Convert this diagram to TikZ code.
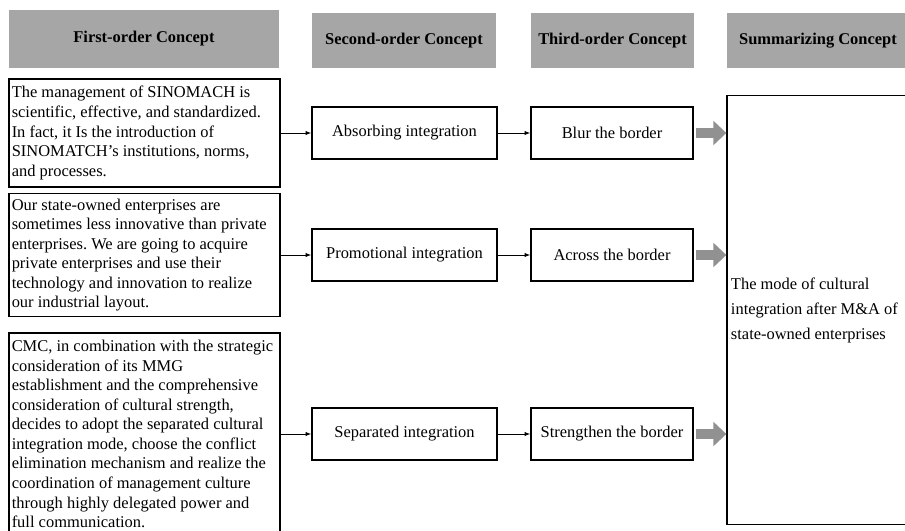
\documentclass[tikz,border=0pt]{standalone}
\usepackage{fontspec}
\setmainfont{Liberation Serif}
\usetikzlibrary{arrows.meta,positioning}
\definecolor{headgray}{RGB}{166,166,166}
\definecolor{arrowgray}{RGB}{145,145,145}
% quote text: no hyphenation, single space after full stops
\newcommand{\quotefont}{\fontsize{11.7}{13.9}\selectfont\frenchspacing\hyphenpenalty=10000\relax}

\begin{document}
\begin{tikzpicture}[x=0.025cm, y=-0.025cm,
  head/.style={fill=headgray, minimum height=1.375cm, inner sep=0pt,
    font=\fontsize{11.7}{14}\selectfont\bfseries},
  quote/.style={draw, line width=0.9pt, align=flush left, inner ysep=0pt,
    inner xsep=0.07cm, text width=6.635cm, minimum width=6.775cm,
    font=\quotefont},
  concept/.style={draw, line width=0.9pt, minimum height=1.3cm,
    font=\fontsize{11.7}{14}\selectfont},
  link/.style={-{Latex[length=4pt,width=3pt]}, line width=0.7pt},
  block/.style={arrowgray, line width=7.8pt, shorten <=1.4pt,
    -{Triangle[length=9.3pt,width=17pt]}}]
  \clip (0,0) rectangle (905,531);
  % column headers
  \node[head, minimum width=6.75cm, minimum height=1.45cm] (h1) at (144,39) {First-order Concept};
  \node[head, minimum width=4.6cm] (h2) at (404,40.5) {Second-order Concept};
  \node[head, minimum width=4.075cm] (h3) at (612.5,40.5) {Third-order Concept};
  \node[head, minimum width=4.55cm] (h4) at (818,40.5) {Summarizing Concept};
  % first-order concepts (interview quotes)
  \node[quote, minimum height=2.7cm] (q1) at (144.5,133)
    {The management of SINOMACH is\\
     scientific, effective, and standardized.\\
     In fact, it Is the introduction of\\
     SINOMATCH's institutions, norms,\\
     and processes.};
  \node[quote, minimum height=3.075cm] (q2) at (144.5,255)
    {Our state-owned enterprises are\\
     sometimes less innovative than private\\
     enterprises. We are going to acquire\\
     private enterprises and use their\\
     technology and innovation to realize\\
     our industrial layout.};
  \node[quote, minimum height=5.05cm] (q3) at (144.5,434)
    {CMC, in combination with the strategic\\
     consideration of its MMG\\
     establishment and the comprehensive\\
     consideration of cultural strength,\\
     decides to adopt the separated cultural\\
     integration mode, choose the conflict\\
     elimination mechanism and realize the\\
     coordination of management culture\\
     through highly delegated power and\\
     full communication.};
  % second-order concepts
  \node[concept, minimum width=4.625cm] (s1) at (404.5,133) {Absorbing integration};
  \node[concept, minimum width=4.625cm] (s2) at (404.5,255) {Promotional integration};
  \node[concept, minimum width=4.625cm] (s3) at (404.5,434) {Separated integration};
  % third-order concepts
  \node[concept, minimum width=4.05cm] (t1) at (612,133) {Blur the border};
  \node[concept, minimum width=4.05cm] (t2) at (612,255) {Across the border};
  \node[concept, minimum width=4.05cm] (t3) at (612,434) {Strengthen the border};
  % summarizing concept
  \node[concept, minimum width=4.55cm, minimum height=10.725cm, align=flush left,
    inner xsep=0.1cm, text width=4.35cm,
    font=\fontsize{11.7}{17.8}\selectfont] (sum) at (818,310)
    {The mode of cultural\\
     integration after M\&A of\\
     state-owned enterprises};
  % connectors
  \foreach \i in {1,2,3} {
    \draw[link] (q\i) -- (s\i);
    \draw[link] (s\i) -- (t\i);
    \draw[block] (t\i.east) -- (t\i.east -| sum.west);
  }
\end{tikzpicture}
\end{document}
